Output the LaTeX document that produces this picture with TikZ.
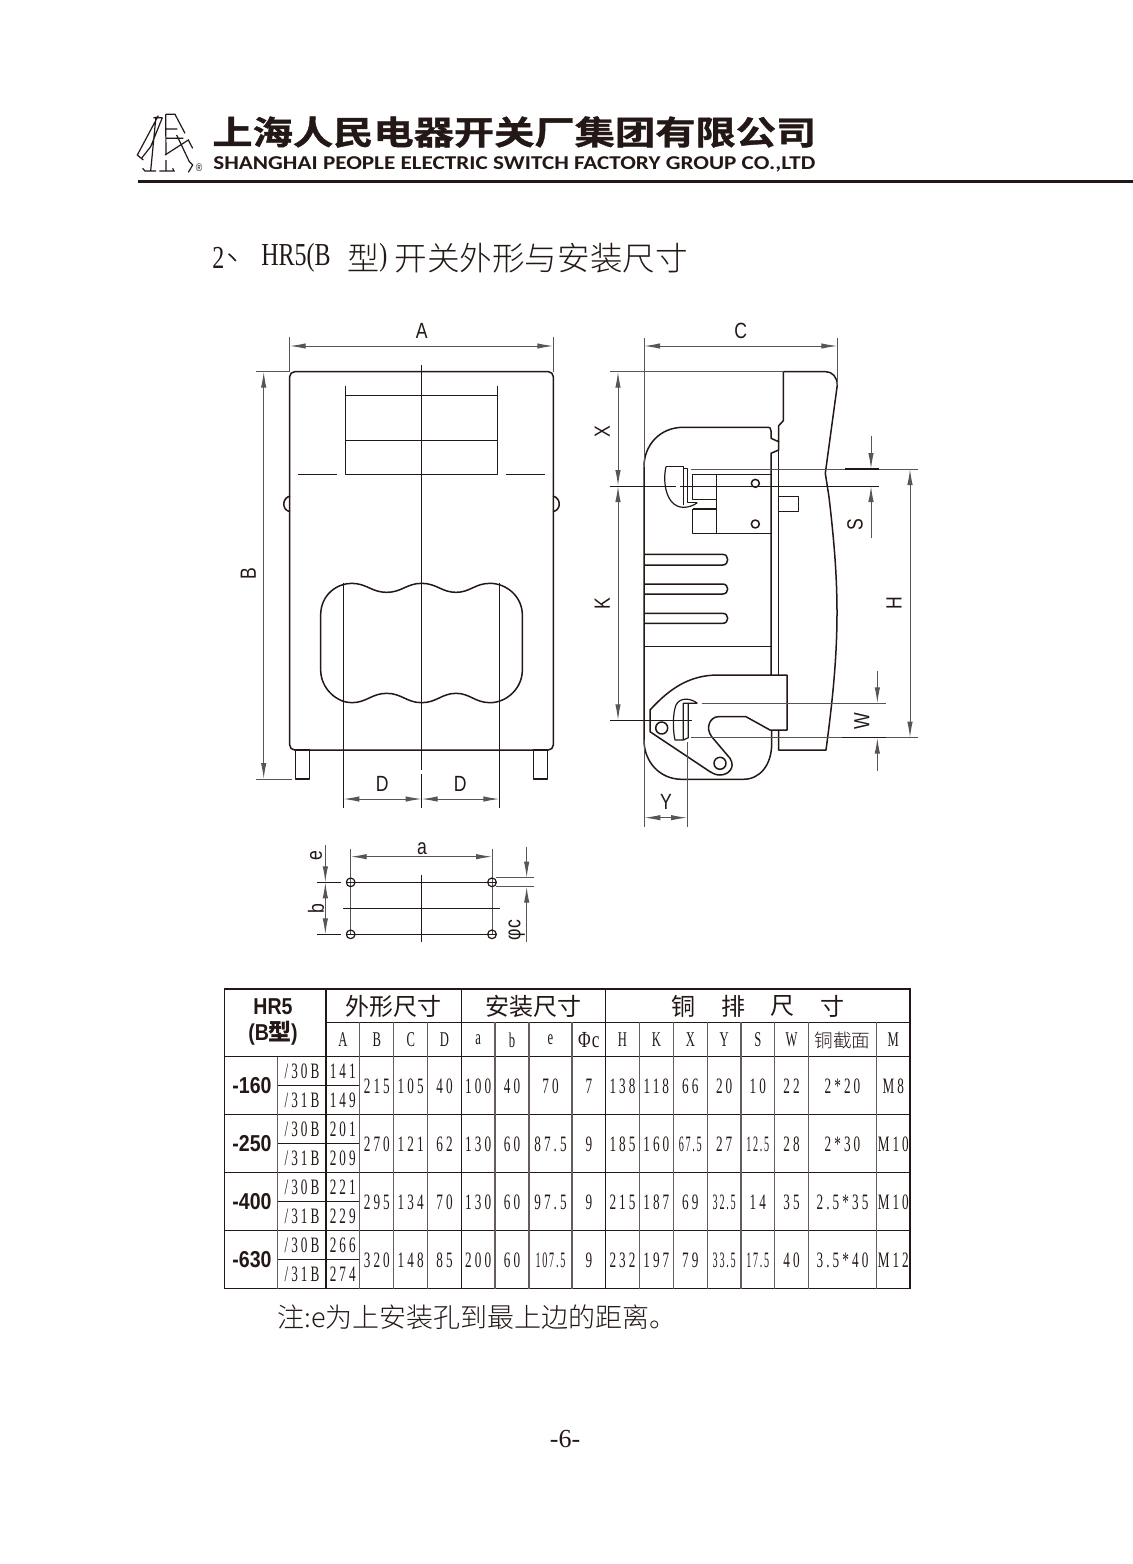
\documentclass[tikz,border=0pt]{standalone}
\usepackage{graphicx}
\usepackage{fontspec}
\usetikzlibrary{arrows.meta}
\setmainfont{Liberation Serif}
\newfontfamily\cjkl[UprightFont=* Light]{Noto Sans CJK SC}
\newfontfamily\cjkm{Noto Sans CJK SC}
\newfontfamily\hdrf[FakeStretch=1.22,UprightFont=* Bold,FakeBold=1.2]{Noto Sans CJK SC}
\newfontfamily\cjkb[UprightFont=* Bold]{Noto Sans CJK SC}
\newfontfamily\enb{Carlito}
\newfontfamily\lab[FakeStretch=.8]{Liberation Sans}
\newfontfamily\tn[FakeStretch=.6,LetterSpace=14]{Liberation Serif}
\newfontfamily\tns[FakeStretch=.46,LetterSpace=8]{Liberation Serif}
\newfontfamily\tti[FakeStretch=.75]{Liberation Serif}
\newfontfamily\bsf[FakeStretch=.85]{Liberation Sans}
\definecolor{ink}{HTML}{231815}
\definecolor{thinc}{HTML}{595553}
\tikzset{
  z1/.style={shift={(#1)},x=0.16667pt,y=-0.16667pt},
  main/.style={draw=ink,line width=.75pt,line join=round},
  thinl/.style={draw=thinc,line width=.5pt},
  darkl/.style={draw=ink,line width=.45pt},
  tip/.style={Latex[length=8pt,width=2.7pt]},
  dimend/.style={thinl,-{Latex[length=8pt,width=2.7pt]}},
  dimboth/.style={thinl,{Latex[length=8pt,width=2.7pt]}-{Latex[length=8pt,width=2.7pt]}},
  lbl/.style={text=ink,font=\lab\fontsize{11pt}{11pt}\selectfont,inner sep=0pt},
  tc/.style={text=ink,font=\tn\fontsize{11pt}{11pt}\selectfont,inner sep=0pt},
  tcn/.style={text=ink,font=\tns\fontsize{11pt}{11pt}\selectfont,inner sep=0pt},
  th/.style={text=ink,font=\tn\fontsize{10.5pt}{10.5pt}\selectfont,inner sep=0pt},
  tcj/.style={text=ink,font=\cjkm\fontsize{12pt}{12pt}\selectfont,inner sep=0pt},
  tb/.style={text=ink,font=\bsf\bfseries\fontsize{11.5pt}{11.5pt}\selectfont,inner sep=0pt},
  tl/.style={draw=ink,line width=.7pt},
  tg/.style={draw=ink!70,line width=.55pt},
}
\begin{document}
\begin{tikzpicture}[x=.5pt,y=-.5pt]
\useasboundingbox (0,0) rectangle (1133,1564);
\fill[white] (0,0) rectangle (1133,1564);

%% ---------- header
\begin{scope}[z1={130,105}]
\draw[draw=ink,line width=.6pt,line join=miter]
  (85,32) -- (22,150) -- (40,165)
  (70,38) -- (97,38)
  (78,35) -- (72,95) -- (62,198)
  (97,38) -- (62,125) -- (36,158)
  (107,28) -- (108,150)
  (107,28) -- (135,28) -- (165,85)
  (107,72) -- (142,72)
  (108,100) -- (160,100)
  (105,150) -- (175,105) -- (188,130)
  (140,90) -- (178,170) -- (188,180) -- (175,202)
  (38,190) -- (45,198) -- (78,198)
  (88,198) -- (132,198) -- (128,190)
  (108,165) -- (108,198);
\end{scope}
\node[anchor=center,text=ink,font=\lab\fontsize{5.5pt}{5.5pt}\selectfont,inner sep=0pt] (reg) at (199,168) {®};
\node[anchor=west,text=ink,inner sep=0pt,font=\hdrf\fontsize{16.5pt}{16.5pt}\selectfont] (cname) at (212,132) {上海人民电器开关厂集团有限公司};
\node[anchor=west,text=ink,inner sep=0pt,font=\enb\bfseries\fontsize{9.8pt}{9.8pt}\selectfont] (ename) at (213,164) {\resizebox{301pt}{\height}{SHANGHAI PEOPLE ELECTRIC SWITCH FACTORY GROUP CO.,LTD}};
\draw[ink,line width=1.5pt] (138,181.5) -- (1133,181.5);

%% ---------- title
\node[anchor=west,text=ink,inner sep=0pt,font=\tti\fontsize{16pt}{16pt}\selectfont] (t1) at (212,258) {2};
\node[anchor=west,text=ink,inner sep=0pt,font=\cjkl\fontsize{16pt}{16pt}\selectfont] (t2) at (226,258) {、};
\node[anchor=west,text=ink,inner sep=0pt,font=\tti\fontsize{16pt}{16pt}\selectfont] (t3) at (261,258) {HR5(B};
\node[anchor=west,text=ink,inner sep=0pt,font=\cjkl\fontsize{16pt}{16pt}\selectfont] (t4) at (347,258) {型};
\node[anchor=west,text=ink,inner sep=0pt,font=\tti\fontsize{16pt}{16pt}\selectfont] (t5) at (379,258) {)};
\node[anchor=west,text=ink,inner sep=0pt,font=\cjkl\fontsize{16.3pt}{16.3pt}\selectfont] (t6) at (394,258) {开关外形与安装尺寸};

%% ---------- front view
\begin{scope}[z1={230,310}]
\draw[thinl] (179,82) -- (179,185) (970,82) -- (970,185) (77,185) -- (179,185);
\draw[dimboth] (179,108) -- (970,108);
\node[lbl] (lA) at (575,62) {A};
\draw[main] (346,228) -- (346,493) -- (803,493) -- (803,228)
  (346,256) -- (803,256) (346,391) -- (803,391);
\draw[main] (205,493) -- (320,493) (828,493) -- (944,493);
\draw[main] (180,558) .. controls (155,565) and (155,600) .. (180,605);
\draw[main] (969,558) .. controls (994,565) and (994,600) .. (969,605);
\end{scope}
\draw[main,rounded corners=2.5pt] (289.7,500) -- (289.7,371.7) -- (553.3,371.7) -- (553.3,750) -- (289.7,750) -- cycle;
\draw[darkl] (421.7,365) -- (421.7,770) (421.7,773.5) -- (421.7,807.7);
\draw[dimboth] (263.7,371.7) -- (263.7,779);
\begin{scope}[z1={230,560}]
\draw[main] (272,165) .. controls (272,105) and (320,70) .. (365,70)
  .. controls (410,70) and (425,97) .. (470,97)
  .. controls (515,97) and (530,70) .. (575,70)
  .. controls (620,70) and (635,97) .. (678,97)
  .. controls (720,97) and (735,70) .. (780,70)
  .. controls (830,70) and (877,110) .. (877,165)
  -- (877,330)
  .. controls (877,385) and (830,428) .. (780,428)
  .. controls (735,428) and (720,400) .. (678,400)
  .. controls (635,400) and (620,428) .. (575,428)
  .. controls (530,428) and (515,400) .. (470,400)
  .. controls (425,400) and (410,428) .. (365,428)
  .. controls (320,428) and (272,385) .. (272,330) -- cycle;
\draw[darkl] (340,68) -- (340,743) (808,68) -- (808,743);
\draw[dimboth] (340,717) -- (575,717);
\draw[dimboth] (575,717) -- (808,717);
\draw[main] (196,570) rectangle (239,657) (910,570) rectangle (953,657);
\draw[thinl] (77,657) -- (186,657);
\node[lbl] (lD1) at (457,672) {D};
\node[lbl] (lD2) at (691,672) {D};
\node[lbl,rotate=90] (lB) at (55,40) {B};
\end{scope}

%% ---------- mounting holes
\begin{scope}[z1={290,830}]
\draw[thinl] (182,57) -- (182,313) (606,57) -- (606,313);
\draw[darkl] (82,157) -- (152,157) (82,313) -- (152,313);
\draw[main,line width=.6pt] (168,157) -- (620,157) (168,313) -- (620,313);
\draw[darkl] (395,135) -- (395,337) (160,235) -- (630,235);
\draw[main,line width=.6pt] (182,157) circle (13) (606,157) circle (13) (182,313) circle (13) (606,313) circle (13);
\draw[dimboth] (182,80) -- (606,80);
\draw[dimend] (106,45) -- (106,157);
\draw[dimboth] (106,157) -- (106,313);
\draw[dimend] (710,52) -- (710,143);
\draw[dimend] (710,335) -- (710,170);
\draw[thinl] (618,143) -- (733,143) (618,170) -- (733,170);
\node[lbl] (la) at (396,55) {a};
\node[lbl,rotate=90] (le) at (78,78) {e};
\node[lbl,rotate=90] (lb) at (78,237) {b};
\node[lbl,rotate=90] (lc) at (680,300) {φc};
\end{scope}

%% ---------- side view
% rear plate
\draw[main] (783.3,371.7) -- (826,371.7) .. controls (832,371.7) and (837.3,377) .. (837.3,385)
  -- (825.3,473.3) -- (829,497) .. controls (834,540) and (837,575) .. (837,613)
  .. controls (837,660) and (832,705) .. (826,750) -- (778.7,750) -- (778.7,730);
\draw[main] (783.3,371.7) -- (783.3,420.7) -- (778.7,425.7) -- (778.7,441.7);
\draw[main] (778.7,450) -- (778.7,675);
% body
\draw[main] (644,466.7) .. controls (644,445) and (660,427.3) .. (683.3,427.3) -- (766.7,427.3)
  .. controls (770,427.3) and (771,428) .. (771,431) -- (771,438.3) -- (778.7,441.7) -- (778.7,450)
  -- (771,453.3) -- (771,675);
\draw[main] (644,466.7) -- (644,740) .. controls (644,762) and (660,779.3) .. (681.7,779.3)
  -- (743.3,779.3) .. controls (760,779.3) and (771.7,765) .. (771.7,743.3) -- (771.7,730);
% extension lines left/right
\draw[thinl] (644,338) -- (644,466.7) (837.3,338) -- (837.3,385) (610,371.7) -- (783.3,371.7);
% copper lower
\draw[main,fill=white] (650,710) .. controls (670,688) and (690,675) .. (718.3,675) -- (787,675) -- (787,730)
  -- (770,730) -- (746,716.7) -- (718.3,716.7) .. controls (710,716.7) and (705,728) .. (711.7,736.7)
  -- (730,758.3) .. controls (736,768) and (728,775) .. (720,775) .. controls (716,775) and (713,773.5) .. (710,771.7)
  -- (650,731.7) -- cycle;
\draw[main] (661.7,728) circle (6) (720,763.3) circle (6);

\begin{scope}[z1={590,310}]
% upper terminal
\draw[main,line width=.6pt] (228,470) .. controls (218,510) and (225,590) .. (280,592) .. controls (295,592) and (310,587) .. (322,578);
\draw[main,line width=.6pt] (228,470) -- (280,470) -- (280,585);
\draw[main,line width=.6pt] (280,475) -- (292,475) -- (292,578) -- (322,578);
\draw[main] (380,494) -- (308,494) -- (308,568) -- (380,568);
\draw[main] (308,597) -- (380,597);
\draw[main] (308,597) -- (308,670) -- (544,670);
\draw[main] (380,494) -- (380,670) (380,494) -- (544,494);
\draw[main] (496,520) circle (12) (496,642) circle (12);
\draw[main] (566,560) -- (625,560) -- (625,605) -- (566,605);
% slot
\draw[main] (163,733) -- (398,733) .. controls (418,733) and (418,765) .. (398,765) -- (163,765);
% dims
\draw[darkl] (60,528) -- (258,528) (270,528) -- (868,528);
\draw[thinl] (302,477) -- (985,477);
\draw[draw=ink,line width=.7pt] (765,477) -- (868,477);
\draw[dimend] (843,378) -- (843,477);
\draw[dimend] (843,685) -- (843,528);
\draw[dimboth] (84,185) -- (84,528);
\draw[dimboth] (162,108) -- (742,108);
\node[lbl] (lC) at (452,62) {C};
\node[lbl,rotate=90] (lX) at (37,365) {X};
\node[lbl,rotate=90] (lS) at (795,645) {S};
\end{scope}
\begin{scope}[z1={590,570}]
\draw[main] (163,42) -- (398,42) .. controls (418,42) and (418,72) .. (398,72) -- (163,72);
\draw[main] (163,130) -- (398,130) .. controls (418,130) and (418,160) .. (398,160) -- (163,160);
\draw[main] (163,229) -- (544,229);
% lower hook
\draw[main,line width=.6pt] (322,400) .. controls (305,385) and (270,380) .. (258,405) .. controls (248,430) and (248,480) .. (255,510) -- (280,510) -- (280,400) -- (322,400);
\draw[main,line width=.6pt] (280,510) -- (295,503) -- (295,400);
% dims
\draw[darkl] (60,451) -- (305,451);
\draw[thinl] (335,400) -- (887,400) (302,503) -- (985,503);
\draw[draw=ink,line width=.7pt] (755,503) -- (887,503);
\draw[dimend] (862,303) -- (862,400);
\draw[dimend] (862,602) -- (862,503);
\draw[thinl] (163,510) -- (163,770) (291,517) -- (291,770);
\draw[dimboth] (163,743) -- (291,743);
\node[lbl] (lY) at (228,695) {Y};
\node[lbl,rotate=90] (lK) at (37,100) {K};
\node[lbl,rotate=90] (lH) at (912,100) {H};
\node[lbl,rotate=90] (lW) at (815,453) {W};
\end{scope}
\draw[dimboth] (618,486) -- (618,720.3);
\draw[dimboth] (910,469) -- (910,737.7);

%% ---------- table
\draw[tl] (224.7,989) rectangle (910,1288.5);
\draw[tl] (326,1022.3) -- (910,1022.3);
\draw[tl] (224.7,1056.7) -- (910,1056.7);
\foreach \y in {1114.7,1172.7,1230.7} \draw[tl] (224.7,\y) -- (910,\y);
\foreach \y in {1085.7,1143.7,1201.7,1259.3} \draw[tl] (277.7,\y) -- (359.7,\y);
\foreach \x in {326,461.3,605.7} \draw[tl] (\x,989) -- (\x,1288.5);
\draw[tg] (277.7,1056.7) -- (277.7,1288.5);
\foreach \x in {359.7,393.7,427.7,495,529,572,639.3,673.3,707.3,741,774.7,808.3,876.7} \draw[tg] (\x,1022.3) -- (\x,1288.5);

\node[tb] (hr) at (273,1007) {HR5};
\node[tb] (bt) at (273,1033) {(B\hspace{-.5pt}{\cjkb 型})};
\node[tcj] (g1) at (393,1006) {外形尺寸};
\node[tcj] (g2) at (533,1006) {安装尺寸};
\foreach \x/\c in {683/铜,733/排,782/尺,832/寸} \node[tcj] at (\x,1006) {\c};
\foreach \x/\c in {342.8/A,376.8/B,410.7/C,444.5/D,478.2/a,512/b,550.5/e,622.5/H,656.3/K,690.3/X,724.2/Y,757.8/S,791.5/W,893.3/M} \node[th] at (\x,1040) {\c};
\node[text=ink,inner sep=0pt,font=\tti\fontsize{11.5pt}{11.5pt}\selectfont] (phi) at (588.8,1040) {Φ\kern.5pt c};
\node[text=ink,inner sep=0pt,font=\cjkl\fontsize{9.3pt}{9.3pt}\selectfont] (tjm) at (842.5,1040) {铜截面};

% row labels
\foreach \y/\t in {1086/-160,1144/-250,1202/-400,1260/-630} \node[tb] at (252,\y) {\t};
\foreach \y in {1071,1129,1187,1245} \node[tc] at (302,\y) {/30B};
\foreach \y in {1100,1158,1216,1274} \node[tc] at (302,\y) {/31B};
\foreach \y/\t in {1071/141,1100/149,1129/201,1158/209,1187/221,1216/229,1245/266,1274/274} \node[tc] at (342.8,\y) {\t};

\foreach \y/\b/\c/\d/\ca/\cb/\ce/\cf/\h/\k/\w/\m in {
  1086/215/105/40/100/40/70/7/138/118/22/M8,
  1144/270/121/62/130/60/87.5/9/185/160/28/M10,
  1202/295/134/70/130/60/97.5/9/215/187/35/M10,
  1260/320/148/85/200/60/107.5/9/232/197/40/M12}{
  \node[tc] at (376.8,\y) {\b};
  \node[tc] at (410.7,\y) {\c};
  \node[tc] at (444.5,\y) {\d};
  \node[tc] at (478.2,\y) {\ca};
  \node[tc] at (512,\y) {\cb};
  \node[tc] at (588.8,\y) {\cf};
  \node[tc] at (622.5,\y) {\h};
  \node[tc] at (656.3,\y) {\k};
  \node[tc] at (791.5,\y) {\w};
  \node[tc] at (893.3,\y) {\m};
}
\foreach \y/\t in {1086/70,1144/87.5,1202/97.5} \node[tc] at (550.5,\y) {\t};
\node[tcn] at (550.5,1260) {107.5};
\foreach \y/\t in {1086/66,1202/69,1260/79} \node[tc] at (690.3,\y) {\t};
\node[tcn] at (690.3,1144) {67.5};
\foreach \y/\t in {1086/20,1144/27} \node[tc] at (724.2,\y) {\t};
\foreach \y/\t in {1202/32.5,1260/33.5} \node[tcn] at (724.2,\y) {\t};
\foreach \y/\t in {1086/10,1202/14} \node[tc] at (757.8,\y) {\t};
\foreach \y/\t in {1144/12.5,1260/17.5} \node[tcn] at (757.8,\y) {\t};
\foreach \y/\t in {1086/2*20,1144/2*30,1202/2.5*35,1260/3.5*40} \node[tc] at (842.5,\y) {\t};

%% ---------- footer
\node[anchor=west,text=ink,inner sep=0pt,font=\cjkl\fontsize{13.5pt}{13.5pt}\selectfont] (note) at (277,1317) {注:e为上安装孔到最上边的距离。};
\node[text=ink,inner sep=0pt,font=\fontsize{13pt}{13pt}\selectfont] (pg) at (565,1439) {-6-};
\end{tikzpicture}
\end{document}
